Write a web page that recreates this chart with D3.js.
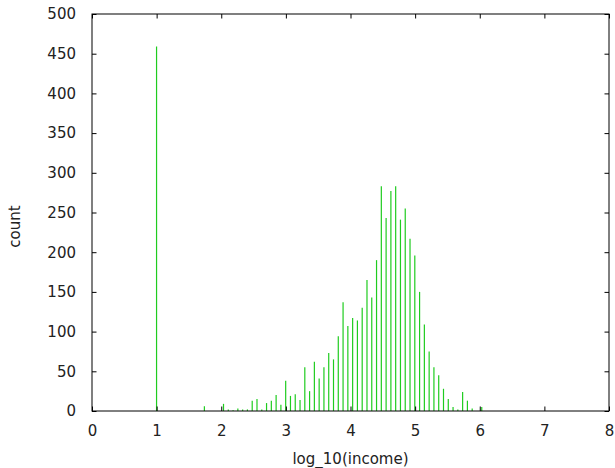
<!DOCTYPE html>
<html>
<head>
<meta charset="utf-8">
<script src="https://cdn.jsdelivr.net/npm/d3@7"></script>
<style>
  body { margin: 0; background: #fff; }
  svg text { font-family: "DejaVu Sans", sans-serif; fill: #222; }
</style>
</head>
<body>
<svg id="chart"></svg>
<script>
// histogram of log_10(income), bin centres and counts
const binCentres = [
    0.999, 1.739,
    2.035, 2.109, 2.183, 2.257, 2.331, 2.405, 2.479, 2.553, 2.627, 2.701,
    2.775, 2.849, 2.923, 2.997, 3.071, 3.145, 3.219, 3.293, 3.367, 3.441,
    3.515, 3.589, 3.663, 3.737, 3.811, 3.885, 3.959, 4.033, 4.107, 4.181,
    4.255, 4.329, 4.403, 4.477, 4.551, 4.625, 4.699, 4.773, 4.847, 4.921,
    4.995, 5.069, 5.143, 5.217, 5.291, 5.365, 5.439, 5.513, 5.587, 5.661,
    5.735, 5.809, 5.883, 6.031
]
const counts = [
    459, 6,
    9, 2, 1, 3, 2, 2, 13, 15, 2, 10,
    13, 20, 8, 38, 19, 21, 14, 55, 25, 62,
    41, 55, 73, 65, 94, 137, 107, 117, 114, 130,
    165, 143, 190, 283, 243, 277, 283, 241, 255, 217,
    196, 150, 109, 75, 55, 45, 28, 15, 5, 2,
    24, 13, 3, 5, 1
]
const xTicks = [0, 1, 2, 3, 4, 5, 6, 7, 8]
const yTicks = [0, 50, 100, 150, 200, 250, 300, 350, 400, 450, 500]

let margin = ({top: 14, right: 6, bottom: 57, left: 92});
let width = 615 - margin.left - margin.right;
let height = 468 - margin.top - margin.bottom;

var svg = d3.select("#chart")
    .attr("width", 615)
    .attr("height", 468)
    .append("g")
    .attr("transform", "translate(" + margin.left + "," + margin.top + ")");

var x = d3.scaleLinear().domain([0, 8]).range([0, width]);
var y = d3.scaleLinear().domain([0, 500]).range([height, 0]);

let data = binCentres.map((c, i) => ({x: c, n: counts[i]}))

// impulses
svg.selectAll(".bar")
    .data(data)
    .enter()
    .append("line")
    .attr("class", "bar")
    .attr("x1", d => x(d.x))
    .attr("x2", d => x(d.x))
    .attr("y1", y(0))
    .attr("y2", d => y(d.n))
    .attr("stroke", "#1fcc1f")
    .attr("stroke-width", 1.2)

// axes, ticks pointing inwards like gnuplot
const tk = 4.5
function style(g) {
    g.select(".domain").remove()
    g.selectAll(".tick line").attr("stroke", "#000")
    g.selectAll(".tick text").attr("font-size", 15).attr("fill", "#222")
}

svg.append("g")
    .attr("transform", "translate(0," + height + ")")
    .call(d3.axisBottom(x).tickValues(xTicks).tickFormat(d3.format("d")).tickSize(-tk).tickPadding(14.5))
    .call(style)

svg.append("g")
    .call(d3.axisLeft(y).tickValues(yTicks).tickFormat(d3.format("d")).tickSize(-tk).tickPadding(16))
    .call(style)

// mirrored ticks
svg.append("g")
    .call(d3.axisTop(x).tickValues(xTicks).tickSize(-tk).tickFormat(""))
    .call(style)
svg.append("g")
    .attr("transform", "translate(" + width + ",0)")
    .call(d3.axisRight(y).tickValues(yTicks).tickSize(-tk).tickFormat(""))
    .call(style)

// border
svg.append("rect")
    .attr("x", 0).attr("y", 0)
    .attr("width", width).attr("height", height)
    .attr("fill", "none")
    .attr("stroke", "#000")
    .attr("stroke-width", 1)

// axis titles
svg.append("text")
    .attr("x", width / 2)
    .attr("y", height + 53)
    .attr("text-anchor", "middle")
    .attr("font-size", 15)
    .text("log_10(income)")

svg.append("text")
    .attr("transform", "translate(" + (20 - margin.left) + "," + (height / 2 + 14) + ") rotate(-90)")
    .attr("text-anchor", "middle")
    .attr("font-size", 15)
    .text("count")
</script>
</body>
</html>
